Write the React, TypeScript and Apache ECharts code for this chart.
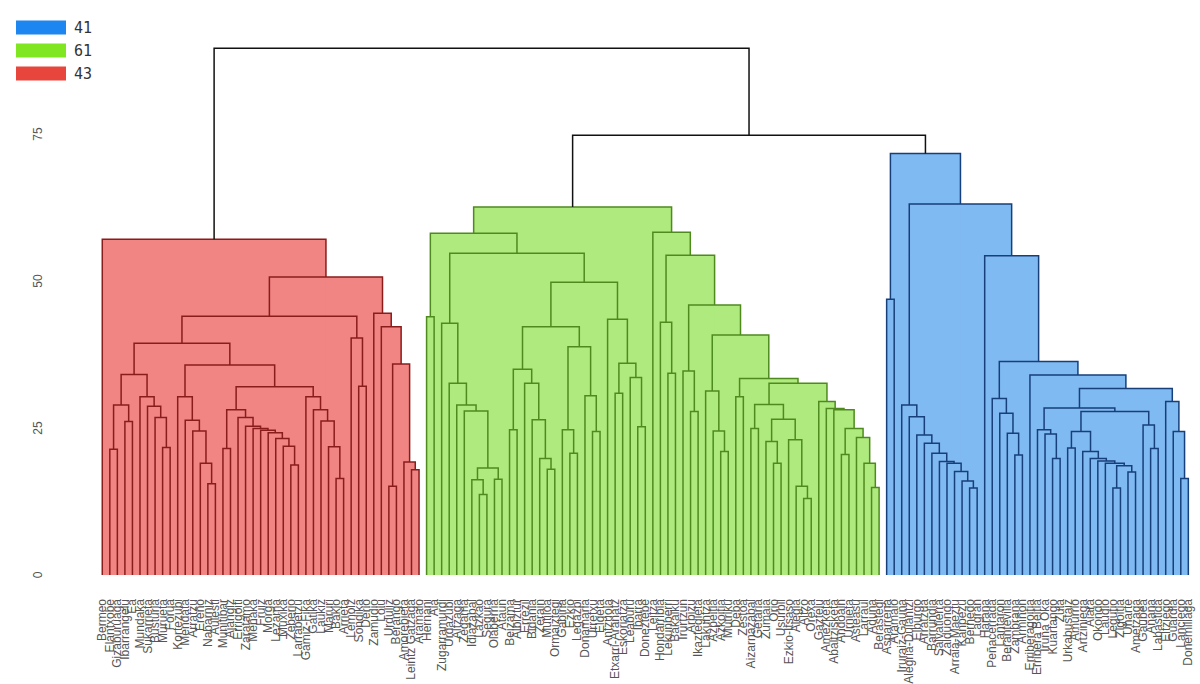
import React, { useEffect, useRef } from "react";
import * as echarts from "echarts";

// A tree node is [mergeHeight, left, right]; a leaf is 0.
type Tree = number | [number, Tree, Tree];

function st(hs: number[], tail: Tree = 0): Tree {
  let t: Tree = tail;
  for (let i = hs.length - 1; i >= 0; i--) t = [hs[i], 0, t];
  return t;
}

// ---------------- leaf labels ----------------
const redLabels = [
  "Bermeo", "Elantxobe", "Gizaburuaga", "Ibarrangelu", "Ea", "Mundaka", "Sukarrieta", "Busturia", "Murueta",
  "Forua", "Kortezubi", "Mendata", "Arratzu", "Ereño", "Nabarniz", "Aulesti", "Munitibar", "Ajangiz",
  "Errigoiti", "Zaratamo", "Meñaka", "Fruiz", "Morga", "Lezama", "Muxika", "Zeberio", "Larrabetzu",
  "Gamiz-Fika", "Gatika", "Laukiz", "Maruri", "Bakio", "Arrieta", "Lemoiz", "Sondika", "Derio", "Zamudio",
  "Loiu", "Urduliz", "Berango", "Amorebieta", "Leintz Gatzaga", "Aramaio",
];
const greenLabels = [
  "Hernani", "Aia", "Zugarramurdi", "Urdazubi", "Altzaga", "Zegama", "Idiazabal", "Lazkao", "Segura",
  "Olaberria", "Ataun", "Beizama", "Albiztur", "Errezil", "Bidania", "Zerain", "Mutiloa", "Ormaiztegi",
  "Gabiria", "Ezkio", "Legazpi", "Donamaria", "Urretxu", "Elgeta", "Antzuola", "Etxarri-Aranatz",
  "Eskoriatza", "Leaburu", "Ibarra", "Doneztebe", "Leitza", "Hondarribia", "Lekunberri", "Bakaiku",
  "Irurtzun", "Arbizu", "Ikaztegieta", "Lakuntza", "Azpeitia", "Azkoitia", "Mutriku", "Deba", "Zestoa",
  "Aizarnazabal", "Getaria", "Zumaia", "Orio", "Usurbil", "Ezkio-Itsaso", "Alegia", "Altzo", "Orexa",
  "Gaztelu", "Amezketa", "Abaltzisketa", "Andoain", "Urnieta", "Asteasu", "Larraul", "Aduna", "Berastegi",
];
const blueLabels = [
  "Asparrena", "Aramaio", "Iruraiz-Gauna", "Alegria-Dulantzi", "Elburgo", "Arratzua", "Barrundia",
  "Salvatierra", "Zalduondo", "Arraia-Maeztu", "Kanpezu", "Bernedo", "Lagran", "Harana", "Peñacerrada",
  "Lantaron", "Berantevilla", "Zambrana", "Armiñon", "Erriberagoitia", "Erribera Beitia", "Iruña Oka",
  "Kuartango", "Zuia", "Urkabustaiz", "Amurrio", "Artziniega", "Aiara", "Okondo", "Laudio", "Legutio",
  "Zigoitia", "Uharte", "Ametzaga", "Gaubea", "Añana", "Labastida", "Eltziego", "Guardia", "Lanciego",
  "Donemiliaga",
];

// ---------------- merge heights (red cluster, 43 leaves) ----------------
const r1: Tree = [34.1, [28.9, [21.4, 0, 0], [26.1, 0, 0]], st([30.3, 28.7, 26.8, 21.7])];
const r2: Tree = st([30.3, 26.3, 24.5, 19.0, 15.5]);
const r3: Tree = [28.1, [21.5, 0, 0], st([26.8, 25.3, 24.9, 24.6, 24.2, 23.2, 21.9, 18.7])];
const r4: Tree = st([30.3, 28.1, 26.2, 21.8, 16.4]);
const r5: Tree = st([40.3, 32.1]);
const r6: Tree = st([44.5, 42.2], [35.9, [15.1, 0, 0], st([19.2, 17.9])]);
const redTree: Tree = [57.1, 0, [50.7, [44.0, [39.4, r1, [35.7, r2, [32.0, r3, r4]]], r5], r6]];

// ---------------- green cluster, 61 leaves ----------------
const g1: Tree = [43.9, 0, 0];
const g2: Tree = st([42.8, 32.6, 28.9, 27.9], [18.2, st([16.2, 13.7]), [16.3, 0, 0]]);
const g3: Tree = [35.0, [24.7, 0, 0], st([32.6, 26.4, 19.8, 18.0])];
const g4: Tree = [38.8, st([24.7, 20.7]), st([30.5, 24.4])];
const g5: Tree = st([43.5], [36.0, [30.9, 0, 0], st([33.6, 25.2])]);
const g6: Tree = st([43.0, 34.3]);
const g7: Tree = st([34.7, 27.8]);
const g8: Tree = st([31.3, 24.5, 21.0]);
const g9: Tree = [30.3, 0, 0];
const g10: Tree = [29.0, [24.9, 0, 0], [26.5, st([22.7, 19.0]), st([23.0, 15.1, 13.0])]];
const g11: Tree = st([29.5, 28.3, 28.1], [24.9, [20.5, 0, 0], st([23.4, 19.0, 14.9])]);
const greenTree: Tree = [
  62.6,
  [58.1, g1, [54.7, g2, [49.8, [42.2, g3, g4], g5]]],
  [58.3, 0, [54.4, g6, [45.9, g7, [40.8, g8, [33.4, g9, [32.6, g10, g11]]]]]],
];

// ---------------- blue cluster, 41 leaves ----------------
const b1: Tree = [46.9, 0, 0];
const b2: Tree = st([28.9, 26.9, 23.8, 22.4, 20.7, 19.3, 19.0, 17.6, 16.0, 14.8]);
const b3: Tree = st([30.0, 27.5, 24.1, 20.4]);
const b4: Tree = st([24.7, 24.0, 19.8]);
const b5: Tree = [24.4, [21.6, 0, 0], st([21.0, 19.8, 19.4, 19.0], [18.6, [14.8, 0, 0], [17.5, 0, 0]])];
const b6: Tree = st([25.5, 21.5]);
const b7: Tree = st([29.5, 24.4, 16.4]);
const blueTree: Tree = [71.7, b1, [63.1, b2, st([54.3], [36.3, b3, st([34.0], [31.7, [28.4, b4, [27.8, b5, b6]], b7])])]];

// upper merges (black)
const upperHeight = 74.8; // green + blue
const rootHeight = 89.6; // red + (green + blue)

const clusterNames = ["43", "61", "41"]; // red, green, blue (counts)
const legendOrder = ["41", "61", "43"];
const yTicks = [0, 25, 50, 75];

export default function App() {
  const ref = useRef<HTMLDivElement>(null);
  useEffect(() => {
    if (!ref.current) return;
    const chart = echarts.init(ref.current, undefined, { renderer: "svg" });

    let pos = 0;
    type P = { x: number; h: number };
    const walk = (t: Tree, out: number[][]): P => {
      if (!Array.isArray(t)) return { x: pos++, h: 0 };
      const [h, l, r] = t;
      const a = walk(l, out);
      const b = walk(r, out);
      out.push([a.x, a.h, b.x, b.h, h]);
      return { x: (a.x + b.x) / 2, h };
    };
    const trees = [redTree, greenTree, blueTree];
    const nodeLists: number[][][] = [];
    const roots: P[] = [];
    trees.forEach((t) => {
      const out: number[][] = [];
      roots.push(walk(t, out));
      nodeLists.push(out);
    });
    const top: number[][] = [];
    const link = (a: P, b: P, h: number): P => {
      top.push([a.x, a.h, b.x, b.h, h]);
      return { x: (a.x + b.x) / 2, h };
    };
    const up = link(roots[1], roots[2], upperHeight);
    link(roots[0], up, rootHeight);

    const labels = [...redLabels, ...greenLabels, ...blueLabels];

    const fills = ["#F08584", "#AEEA7E", "#80BAF2"];
    const strokes = ["#8A1C1C", "#4F8A1F", "#173F7A"];
    const legendColors = ["#E8453C", "#80E622", "#1E86F0"];

    const makeRender = (fill: string | null, stroke: string) => (params: any, api: any) => {
      const ax = api.value(0), ah = api.value(1), bx = api.value(2), bh = api.value(3), h = api.value(4);
      const A0 = api.coord([ax, ah]);
      const A1 = api.coord([ax, h]);
      const B1 = api.coord([bx, h]);
      const B0 = api.coord([bx, bh]);
      const children: any[] = [];
      if (fill) {
        const base = api.coord([bx, 0]);
        children.push({
          type: "rect",
          shape: { x: A1[0], y: A1[1], width: B1[0] - A1[0], height: base[1] - A1[1] },
          style: { fill },
          z2: 0,
          silent: true,
        });
      }
      children.push({
        type: "polyline",
        shape: { points: [A0, A1, B1, B0] },
        style: { stroke, lineWidth: 1.5, fill: "none" },
        z2: 10,
        silent: true,
      });
      return { type: "group", children };
    };

    const series: any[] = nodeLists.map((nodes, i) => ({
      type: "custom",
      name: clusterNames[i],
      data: nodes,
      renderItem: makeRender(fills[i], strokes[i]),
      itemStyle: { color: legendColors[i] },
      xAxisIndex: 0,
      yAxisIndex: 0,
      encode: { x: [0, 2], y: [1, 3, 4] },
    }));
    series.push({
      type: "custom",
      name: "top",
      data: top,
      renderItem: makeRender(null, "#111111"),
      xAxisIndex: 0,
      yAxisIndex: 0,
      encode: { x: [0, 2], y: [1, 3, 4] },
    });

    const n = labels.length;
    chart.setOption({
      animation: false,
      legend: {
        data: legendOrder,
        orient: "vertical",
        left: 11,
        top: 15,
        itemWidth: 50,
        itemHeight: 14,
        itemGap: 8,
        icon: "rect",
        selectedMode: false,
        textStyle: { fontSize: 15, color: "#333", fontFamily: "DejaVu Sans Mono", padding: [0, 0, 0, 3] },
      },
      grid: { left: 98.5, right: 7.9, top: 16.4, bottom: 109, containLabel: false, outerBoundsMode: "none" },
      xAxis: [
        { type: "value", min: -0.5, max: n - 0.5, show: false },
        {
          type: "category",
          data: labels,
          position: "bottom",
          boundaryGap: true,
          axisLine: { show: false },
          axisTick: { show: false },
          axisLabel: {
            interval: 0,
            rotate: 90,
            margin: 24,
            fontSize: 12,
            color: "#555",
            fontFamily: "Liberation Sans Narrow, Liberation Sans, Arial, sans-serif",
          },
        },
      ],
      yAxis: {
        type: "value",
        min: 0,
        max: 95,
        interval: 25,
        axisLine: { show: false },
        axisTick: { show: false },
        splitLine: { show: false },
        axisLabel: {
          rotate: 90,
          margin: 55,
          fontSize: 12,
          color: "#555",
          showMaxLabel: false,
          fontFamily: "Liberation Sans, Arial, sans-serif",
          formatter: (v: number) => (yTicks.includes(v) ? String(v) : ""),
        },
      },
      series,
    });
    return () => chart.dispose();
  }, []);
  return <div ref={ref} style={{ position: "absolute", left: 0, top: 0, width: 1200, height: 684 }} />;
}
